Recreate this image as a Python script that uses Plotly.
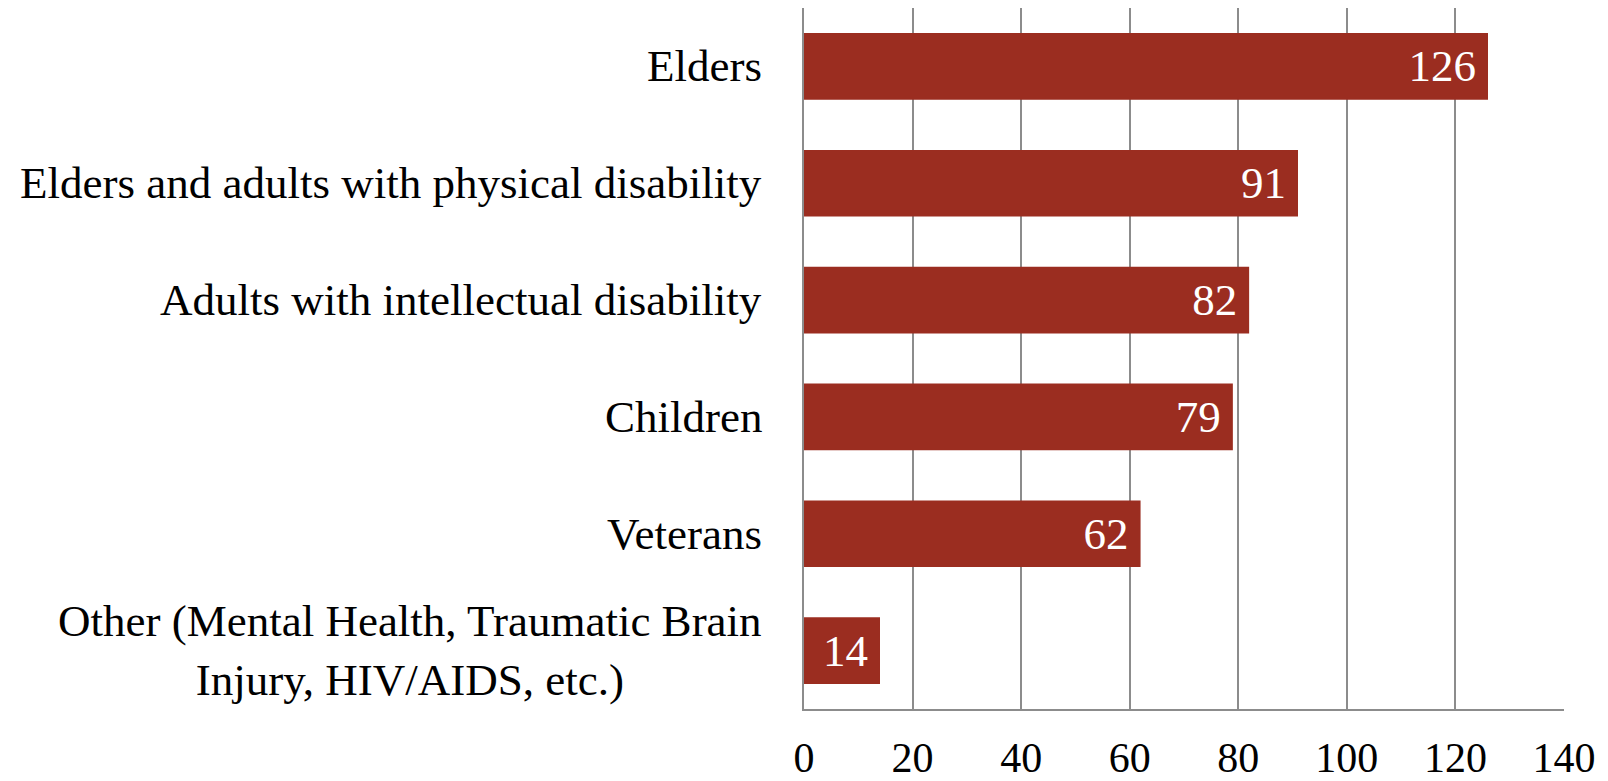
import plotly.graph_objects as go

categories = [
    "Elders",
    "Elders and adults with physical disability",
    "Adults with intellectual disability",
    "Children",
    "Veterans",
    "Other (Mental Health, Traumatic Brain<br>Injury, HIV/AIDS, etc.)",
]
values = [126, 91, 82, 79, 62, 14]
x_ticks = [0, 20, 40, 60, 80, 100, 120, 140]

FONT = "Liberation Serif"
BAR = "#9B2D20"
FS = 45

fig = go.Figure()
fig.add_trace(go.Bar(
    y=categories,
    x=values,
    orientation="h",
    marker=dict(color=BAR, line=dict(width=0)),
    text=[f"{v}\u2009" for v in values],
    textposition="inside",
    insidetextanchor="end",
    textfont=dict(family=FONT, size=FS, color="white"),
    cliponaxis=False,
))

for c in categories:
    fig.add_annotation(
        x=0, xref="paper", y=c, yref="y",
        text=c, showarrow=False, xanchor="right", align="center",
        xshift=-40, font=dict(family=FONT, size=FS, color="black"),
    )

fig.update_layout(
    width=1600, height=773,
    margin=dict(l=796, r=44, t=0, b=72, autoexpand=False),
    paper_bgcolor="white", plot_bgcolor="white",
    bargap=0.43,
    showlegend=False,
    font=dict(family=FONT, size=FS, color="black"),
)
fig.update_xaxes(
    range=[0, 140], tickvals=x_ticks, showgrid=True, gridcolor="#8C8C8C", gridwidth=1.5,
    zeroline=False, showline=True, linecolor="#8C8C8C", linewidth=1.5,
    ticks="", ticklabelstandoff=11, tickfont=dict(family=FONT, size=42),
)
fig.update_yaxes(
    autorange="reversed", showticklabels=False, showgrid=False, zeroline=False,
    showline=True, linecolor="#8C8C8C", linewidth=1.5, ticks="",
)

fig.write_html("out.html")
